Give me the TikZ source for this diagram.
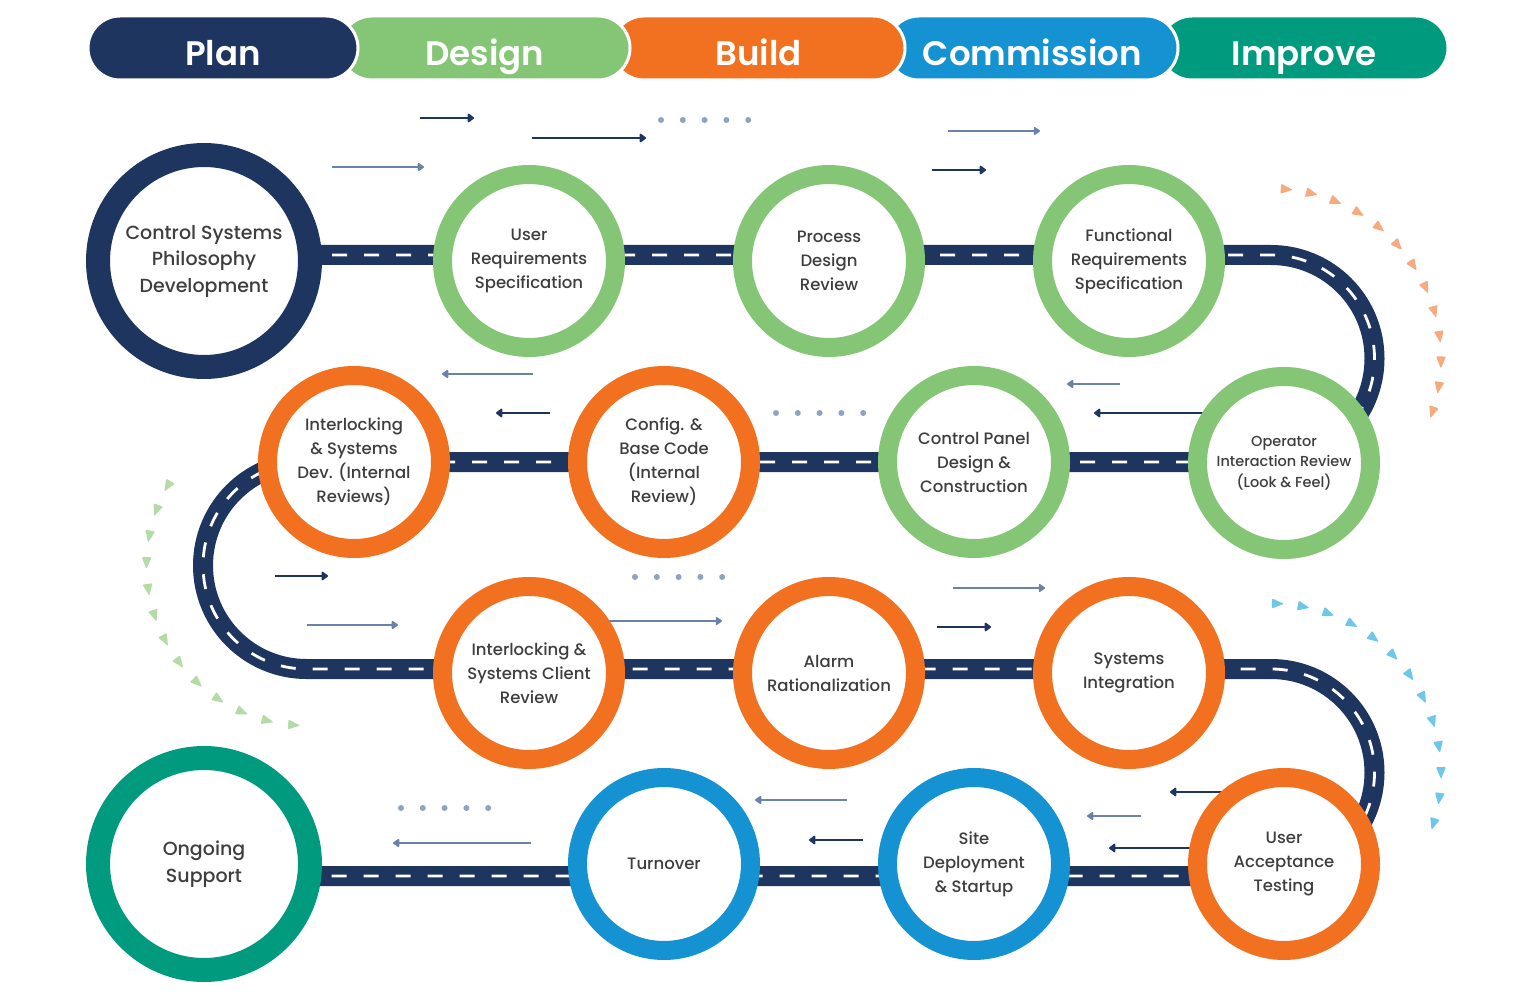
\documentclass[tikz,border=0pt]{standalone}
\usepackage{fontspec}
\setmainfont{Poppins}
\newfontfamily\stagefont{Poppins Medium}
\newfontfamily\phasefont{Poppins SemiBold}
\usepackage{tikz}
\usetikzlibrary{arrows.meta,positioning,calc}
\definecolor{roadnavy}{RGB}{30,53,96}
\definecolor{designgreen}{RGB}{133,198,118}
\definecolor{buildorange}{RGB}{242,113,33}
\definecolor{commblue}{RGB}{20,146,209}
\definecolor{improveteal}{RGB}{0,155,126}
\definecolor{arrowslate}{RGB}{104,130,170}
\definecolor{dotgray}{RGB}{142,163,193}
\definecolor{tripeach}{RGB}{247,170,125}
\definecolor{trigreen}{RGB}{180,218,165}
\definecolor{trisky}{RGB}{110,198,232}
\definecolor{textgray}{RGB}{62,62,64}

\begin{document}
\begin{tikzpicture}[x=1pt,y=1pt,
  phase/.style={rounded corners=32pt, minimum height=64pt, draw=white, line width=3pt,
    text=white, font=\fontsize{34}{40}\phasefont, text height=40pt, text depth=4pt, inner sep=0pt},
  stage/.style={circle, draw=#1, fill=white, line width=19pt, minimum size=173pt, inner sep=0pt,
    align=center, text=textgray, font=\fontsize{16.5}{24}\stagefont},
  bigstage/.style={stage=#1, line width=24pt, minimum size=212pt, font=\fontsize{19}{26.5}\stagefont},
  road/.style={roadnavy, line width=20pt, postaction={draw=white, line width=2.8pt, dash pattern=on 15pt off 17pt}},
  darkarr/.style={roadnavy, line width=2.6pt, -{Triangle[length=7pt,width=10pt,round]}},
  lightarr/.style={arrowslate, line width=2pt, -{Triangle[length=7pt,width=9pt,round]}}]
  \fill[white] (0,0) rectangle (1537,-1000);
  \useasboundingbox (0,0) rectangle (1537,-1000);

  \node[phase, fill=improveteal, minimum width=288pt] (improve) at (1304,-48) {Improve};
  \node[phase, fill=commblue, minimum width=291pt] (commission) at (1032.5,-48) {Commission};
  \node[phase, fill=buildorange, minimum width=293pt] (build) at (758.5,-48) {Build};
  \node[phase, fill=designgreen, minimum width=290pt] (design) at (485,-48) {Design};
  \node[phase, fill=roadnavy, minimum width=270pt] (plan) at (223,-48) {Plan};

  \draw[road] (204,-255) -- (1271,-255) arc[start angle=90, end angle=-90, radius=103.5]
    -- (306.5,-462) arc[start angle=90, end angle=270, radius=103.5]
    -- (1271,-669) arc[start angle=90, end angle=-90, radius=103.5] -- (204,-876);

  \foreach \k [evaluate=\k as \a using 85-8.6*\k] in {0,...,12}
    \fill[tripeach, rounded corners=1pt, shift={(1271,-358.5)}, rotate=\a] (170,-7) -- (165,5) -- (175,5) -- cycle;
  \foreach \k [evaluate=\k as \a using 150+9.6*\k] in {0,...,12}
    \fill[trigreen, rounded corners=1pt, shift={(306.5,-565.5)}, rotate=\a] (160,7) -- (155,-5) -- (165,-5) -- cycle;
  \foreach \k [evaluate=\k as \a using 88-8.75*\k] in {0,...,12}
    \fill[trisky, rounded corners=1pt, shift={(1271,-773.5)}, rotate=\a] (170,-7) -- (165,5) -- (175,5) -- cycle;

  \foreach \xa/\xb/\y in {332/424/167, 948/1040/131, 533/442/374, 1120/1067/384, 307/398/625,
      606/722/621, 953/1045/588, 1141/1087/816, 847/755/800, 531/393/843}
    \draw[lightarr] (\xa,-\y) -- (\xb,-\y);
  \foreach \xa/\xb/\y in {420/474/118, 532/646/138, 932/986/170, 550/496/413, 1205/1094/413,
      275/328/576, 937/991/627, 1222/1170/792, 1195/1109/848, 863/809/840}
    \draw[darkarr] (\xa,-\y) -- (\xb,-\y);
  \foreach \x/\y in {661/120, 776/413, 635/577, 401/808}
    \foreach \k in {0,...,4}
      \fill[dotgray] (\x+21.8*\k,-\y) circle (3pt);

  \node[bigstage=roadnavy] (cspd) at (204,-261) {Control Systems\\Philosophy\\Development};
  \node[stage=designgreen] (urs) at (529,-261) {User\\Requirements\\Specification};
  \node[stage=designgreen] (pdr) at (829,-261) {Process\\Design\\Review};
  \node[stage=designgreen] (frs) at (1129,-261) {Functional\\Requirements\\Specification};
  \node[stage=designgreen, font=\fontsize{14.5}{20.5}\stagefont] (oir) at (1284,-463) {Operator\\Interaction Review\\(Look \& Feel)};
  \node[stage=designgreen] (cpd) at (974,-462) {Control Panel\\Design \&\\Construction};
  \node[stage=buildorange] (cbc) at (664,-462) {Config. \&\\Base Code\\(Internal\\Review)};
  \node[stage=buildorange] (isd) at (354,-462) {Interlocking\\\& Systems\\Dev. (Internal\\Reviews)};
  \node[stage=buildorange] (isc) at (529,-673) {Interlocking \&\\Systems Client\\Review};
  \node[stage=buildorange] (ar) at (829,-673) {Alarm\\Rationalization};
  \node[stage=buildorange] (si) at (1129,-673) {Systems\\Integration};
  \node[stage=buildorange] (uat) at (1284,-864) {User\\Acceptance\\Testing};
  \node[stage=commblue] (sds) at (974,-864) {Site\\Deployment\\\& Startup};
  \node[stage=commblue] (to) at (664,-864) {Turnover};
  \node[bigstage=improveteal] (os) at (204,-864) {Ongoing\\Support};
\end{tikzpicture}
\end{document}
